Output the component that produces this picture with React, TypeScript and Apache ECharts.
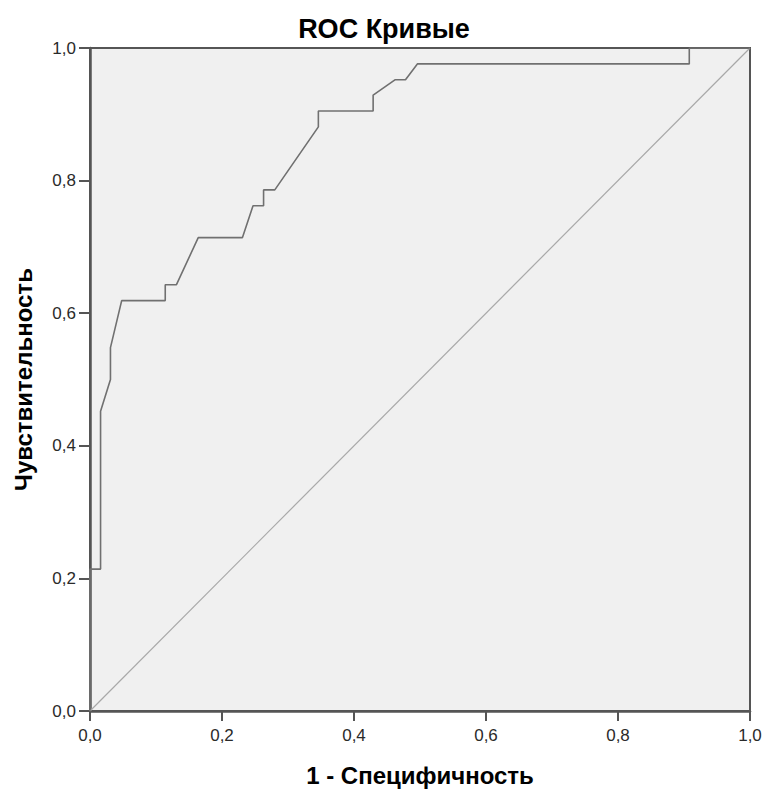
import React, { useEffect, useRef } from "react";
import * as echarts from "echarts";

const xTicks = [0, 0.2, 0.4, 0.6, 0.8, 1.0];
// 1 - specificity (x) and sensitivity (y) of the ROC curve vertices
const rocX = [0, 0, 0.016, 0.016, 0.031, 0.031, 0.048, 0.114, 0.114, 0.131, 0.164, 0.231, 0.247, 0.263, 0.263, 0.280, 0.346, 0.346, 0.429, 0.429, 0.462, 0.478, 0.496, 0.908, 0.908, 1.0];
const rocY = [0, 0.214, 0.214, 0.452, 0.5, 0.548, 0.619, 0.619, 0.643, 0.643, 0.714, 0.714, 0.762, 0.762, 0.786, 0.786, 0.881, 0.905, 0.905, 0.929, 0.952, 0.952, 0.976, 0.976, 1.0, 1.0];
const refX = [0, 1];
const refY = [0, 1];

const fmt = (v: number) => v.toFixed(1).replace(".", ",");

export default function App() {
  const ref = useRef<HTMLDivElement>(null);
  useEffect(() => {
    if (!ref.current) return;
    const chart = echarts.init(ref.current, null, { renderer: "svg" });
    const font = "Liberation Sans, Arial, sans-serif";
    chart.setOption({
      animation: false,
      backgroundColor: "#ffffff",
      title: {
        text: "ROC Кривые",
        left: "center",
        top: 10,
        textStyle: { fontFamily: font, fontSize: 27, fontWeight: "bold", color: "#000" },
      },
      grid: {
        left: 90,
        right: 18,
        top: 48,
        bottom: 78,
        show: true,
        backgroundColor: "#f0f0f0",
        borderColor: "#555",
        borderWidth: 2,
      },
      xAxis: {
        type: "value",
        min: 0,
        max: 1,
        interval: 0.2,
        name: "1 - Специфичность",
        nameLocation: "middle",
        nameGap: 52,
        nameTextStyle: { fontFamily: font, fontSize: 24, fontWeight: "bold", color: "#000" },
        axisLine: { show: true, lineStyle: { color: "#555", width: 2.5 } },
        axisTick: { show: true, inside: false, length: 10, lineStyle: { color: "#555", width: 2 } },
        axisLabel: { formatter: fmt, fontFamily: font, fontSize: 17, color: "#2a2a2a", margin: 16 },
        splitLine: { show: false },
      },
      yAxis: {
        type: "value",
        min: 0,
        max: 1,
        interval: 0.2,
        name: "Чувствительность",
        nameLocation: "middle",
        nameRotate: 90,
        nameGap: 55,
        nameTextStyle: { fontFamily: font, fontSize: 24, fontWeight: "bold", color: "#000" },
        axisLine: { show: true, lineStyle: { color: "#555", width: 2.5 } },
        axisTick: { show: true, inside: false, length: 11, lineStyle: { color: "#555", width: 2 } },
        axisLabel: { formatter: fmt, fontFamily: font, fontSize: 17, color: "#2a2a2a", margin: 14 },
        splitLine: { show: false },
      },
      series: [
        {
          type: "line",
          data: refX.map((x, i) => [x, refY[i]]),
          showSymbol: false,
          lineStyle: { color: "#a8a8a8", width: 1.2 },
          silent: true,
        },
        {
          type: "line",
          data: rocX.map((x, i) => [x, rocY[i]]),
          showSymbol: false,
          lineStyle: { color: "#707070", width: 1.6 },
          silent: true,
        },
      ],
    });
    return () => chart.dispose();
  }, []);
  return (
    <div
      ref={ref}
      style={{ position: "fixed", left: 0, top: 0, width: 768, height: 792 }}
    />
  );
}
